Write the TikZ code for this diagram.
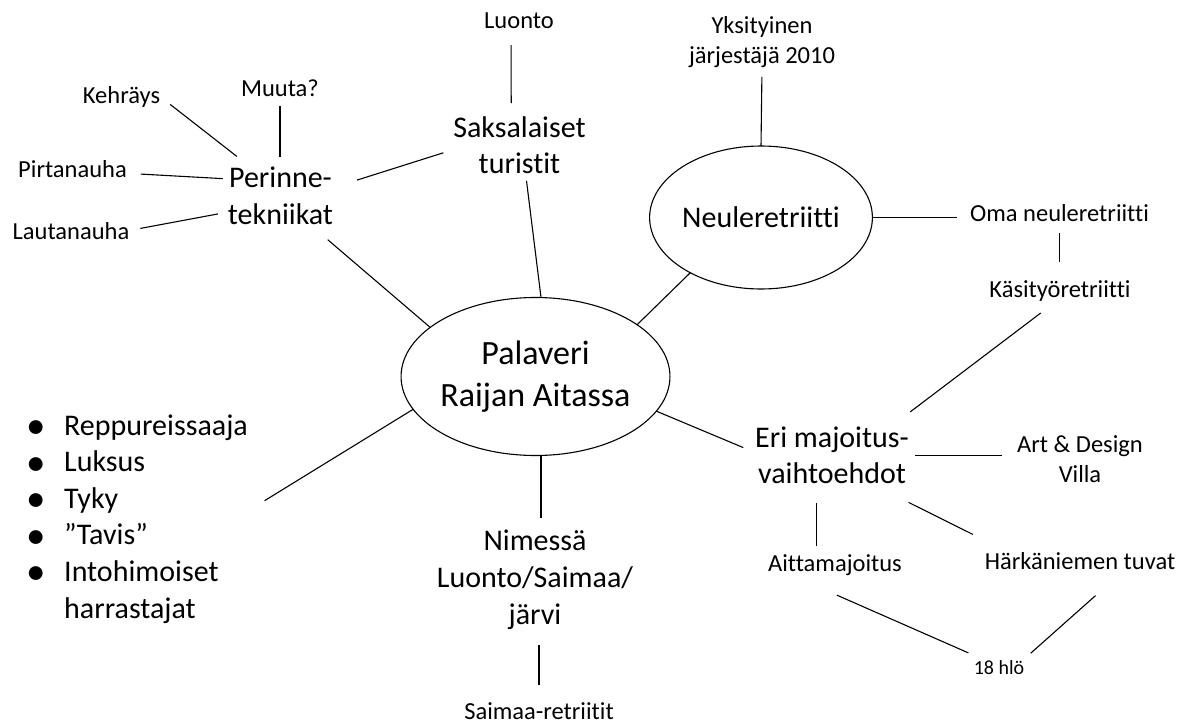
\documentclass[tikz,border=0pt]{standalone}
\usepackage{fontspec}
\setmainfont{Carlito}[Ligatures=NoCommon]
\usepackage{graphicx}
\usepackage{tikz}
\usetikzlibrary{shapes.geometric}
\newcommand{\luetelma}{\makebox[38pt][l]{\smash{\raisebox{-3.5pt}{\scalebox{1.3}{\textbullet}}}}}

\begin{document}
\begin{tikzpicture}[x=1pt,y=-1pt,line width=1.1pt,
  every node/.style={inner sep=0pt,outer sep=0pt,align=center},
  pieni/.style={font=\fontsize{24.5pt}{30.5pt}\selectfont},
  iso/.style={font=\fontsize{30pt}{36.6pt}\selectfont},
  soikio/.style={draw,ellipse}]
\useasboundingbox (0,0) rectangle (1198,725);

\node[pieni] (luonto) at (519,20.25) {Luonto};
\node[iso] (saks) at (519.5,145) {Saksalaiset\\turistit};
\node[pieni] (yks) at (762,42) {Yksityinen\\järjestäjä 2010};
\node[pieni] (kehr) at (121.5,96.5) {Kehräys};
\node[pieni] (muuta) at (280,88.25) {Muuta?};
\node[pieni] (pirta) at (72.5,169.5) {Pirtanauha};
\node[iso] (per) at (280.5,196) {Perinne-\\tekniikat};
\node[pieni] (lauta) at (71,231.5) {Lautanauha};
\node[iso,soikio,minimum width=214pt,minimum height=143pt] (neule) at (761,217.5) {Neuleretriitti};
\node[pieni] (oma) at (1059.5,213.5) {Oma neuleretriitti};
\node[pieni] (kasi) at (1060,291.5) {Käsityöretriitti};
\node[soikio,font=\fontsize{34pt}{41.5pt}\selectfont,minimum width=255pt,minimum height=158pt] (pal) at (535.5,376.5) {Palaveri\\Raijan Aitassa};
\node[iso] (nim) at (535,579.75) {Nimessä\\Luonto/Saimaa/\\järvi};
\node[pieni] (saimaa) at (539,711) {Saimaa-retriitit};
\node[iso] (eri) at (832,455.25) {Eri majoitus-\\vaihtoehdot};
\node[pieni] (art) at (1080,459) {Art \& Design\\Villa};
\node[pieni] (aitta) at (835,565.25) {Aittamajoitus};
\node[pieni] (hark) at (1080,561.5) {Härkäniemen tuvat};
\node[font=\fontsize{20pt}{24pt}\selectfont] (hlo) at (999,668) {18 hlö};
\node[iso,align=left] (lista) at (137,518.75) {\luetelma Reppureissaaja\\\luetelma Luksus\\\luetelma Tyky\\\luetelma ”Tavis”\\\luetelma Intohimoiset\\\hspace*{38pt}harrastajat};

\draw[shorten <=17pt,shorten >=13.1pt] (luonto.-135.9) -- (saks.106.9);
\draw[shorten <=9pt] (yks.south) -- (neule.north);
\draw[shorten >=13pt] (neule.east) -- (neule.east -| oma.west);
\draw[shorten <=11pt,shorten >=19pt] (oma.south) -- (oma.south |- kasi.north);
\draw (pal.27.3) -- (neule.218.3);
\draw[shorten >=7pt] (pal.86) -- (saks.-78.7);
\draw[shorten >=23pt] (pal.155.1) -- (per.-44.9);
\draw[shorten >=19.7pt] (pal.195.2) -- (lista.4.56);
\draw[shorten >=12pt] (pal.-86) -- (pal.-86 |- nim.north);
\draw[shorten <=15.5pt,shorten >=17pt] (saimaa.north |- nim.south) -- (saimaa.north);
\draw[shorten >=12.9pt] (pal.-16.1) -- (eri.178.9);
\draw[shorten <=18.4pt,shorten >=24.3pt] (kasi.-114.3) -- (eri.26.6);
\draw[shorten <=6pt,shorten >=15pt] (eri.east) -- (eri.east -| art.west);
\draw[shorten <=19pt,shorten >=8.5pt] (eri.-118.4) -- (eri.-118.4 |- aitta.north);
\draw[shorten <=41.4pt,shorten >=41.4pt] (eri.-36) -- (hark.173.5);
\draw[shorten <=48.1pt,shorten >=20.2pt] (aitta.-166.9) -- (hlo.150.6);
\draw[shorten <=38.4pt,shorten >=11.8pt] (hark.-11.9) -- (hlo.17.4);
\draw[shorten <=17.6pt,shorten >=12.9pt] (per.136.8) -- (kehr.-0.55);
\draw[shorten <=10pt,shorten >=9pt] (muuta.south |- per.north) -- (muuta.south);
\draw[shorten <=5pt,shorten >=14pt] (per.162.3) -- (pirta.-4.9);
\draw[shorten <=10.2pt,shorten >=11.2pt] (per.197) -- (lauta.1.4);
\draw[shorten <=25.1pt,shorten >=10.5pt] (per.9.3) -- (saks.184.3);
\end{tikzpicture}
\end{document}
